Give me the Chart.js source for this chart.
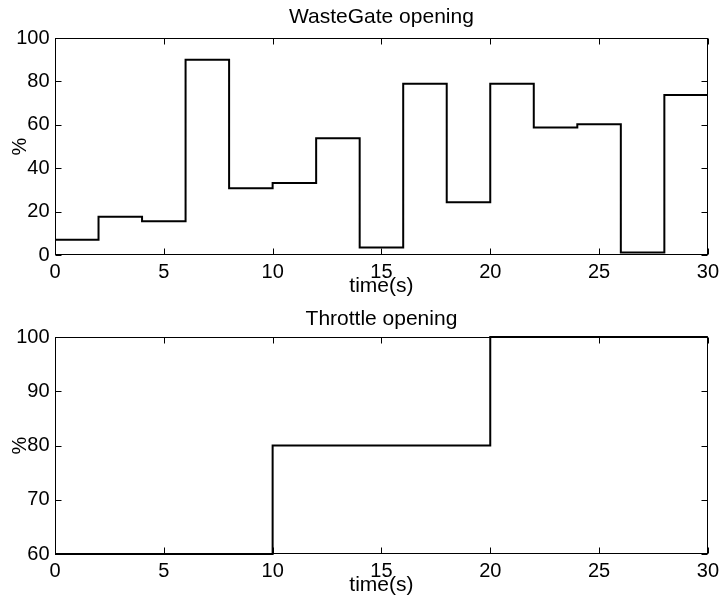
<!DOCTYPE html>
<html>
<head>
<meta charset="utf-8">
<script src="https://cdn.jsdelivr.net/npm/chart.js@4"></script>
<style>
  html, body { margin: 0; padding: 0; background: #fff; }
  canvas { display: block; }
</style>
</head>
<body>
<canvas id="wg" width="724" height="299"></canvas>
<canvas id="th" width="724" height="300"></canvas>
<script>
// WasteGate opening (%), held from each time to the next
const wgTime  = [0, 2, 4, 6, 8, 10, 12, 14, 16, 18, 20, 22, 24, 26, 28, 30];
const wgValue = [7, 17.6, 15.6, 90, 30.8, 33.2, 53.8, 3.5, 78.9, 24.3, 78.9, 58.7, 60.2, 1.1, 73.7, 73.7];

// Throttle opening (%)
const thTime  = [0, 10, 20, 30];
const thValue = [60, 80, 100, 100];

const xTickStep = 5;
const wgYTicks = { min: 0, max: 100, step: 20 };
const thYTicks = { min: 60, max: 100, step: 10 };

Chart.defaults.font.family = '"Liberation Sans", Arial, sans-serif';
Chart.defaults.font.size = 20;
Chart.defaults.color = '#000';

const TICK_LEN = 6;

// box round the axes with inward ticks on all four sides
const boxPlugin = {
  id: 'matlabBox',
  beforeDatasetsDraw(chart) {
    const { ctx, chartArea: a, scales: { x, y } } = chart;
    const l = Math.round(a.left) + 0.5, r = Math.round(a.right) - 0.5;
    const t = Math.round(a.top) + 0.5, b = Math.round(a.bottom) - 0.5;
    ctx.save();
    ctx.strokeStyle = '#000';
    ctx.lineWidth = 1;
    ctx.strokeRect(l, t, r - l, b - t);
    ctx.beginPath();
    x.ticks.forEach(tk => {
      const px = Math.round(x.getPixelForValue(tk.value)) + 0.5;
      ctx.moveTo(px, b); ctx.lineTo(px, b - TICK_LEN);
      ctx.moveTo(px, t); ctx.lineTo(px, t + TICK_LEN);
    });
    y.ticks.forEach(tk => {
      const py = Math.round(y.getPixelForValue(tk.value)) + 0.5;
      ctx.moveTo(l, py); ctx.lineTo(l + TICK_LEN, py);
      ctx.moveTo(r, py); ctx.lineTo(r - TICK_LEN, py);
    });
    ctx.stroke();
    ctx.restore();
  },
};

function drawStep(canvasId, title, times, values, yt, titlePad, xTitlePad, xHeight) {
  const ctx = document.getElementById(canvasId);
  return new Chart(ctx, {
    type: 'line',
    data: {
      datasets: [{
        data: times.map((t, i) => ({ x: t, y: values[i] })),
        stepped: 'before',
        borderColor: '#000',
        borderWidth: 2,
        pointRadius: 0,
        fill: false,
        clip: 4,
      }],
    },
    options: {
      responsive: false, animation: false,
      layout: { padding: { left: 0, right: 14, top: 0, bottom: 0 } },
      plugins: {
        legend: { display: false },
        tooltip: { enabled: false },
        title: {
          display: true, text: title, fullSize: false,
          font: { size: 21, weight: 'normal' }, color: '#000',
          padding: titlePad,
        },
      },
      scales: {
        x: {
          type: 'linear', min: 0, max: 30,
          grid: { display: false, drawTicks: false }, border: { display: false },
          ticks: { stepSize: xTickStep, padding: 5, maxRotation: 0, font: { size: 20 }, color: '#000' },
          title: { display: true, text: 'time(s)', font: { size: 21 }, color: '#000', padding: { top: 0, bottom: xTitlePad } },
          afterFit: s => { s.height = xHeight; },
        },
        y: {
          min: yt.min, max: yt.max,
          grid: { display: false, drawTicks: false }, border: { display: false },
          ticks: { stepSize: yt.step, padding: 5.5, font: { size: 20 }, color: '#000' },
          title: { display: true, text: '%', font: { size: 20 }, color: '#000', padding: { top: 8, bottom: 0 } },
          afterFit: s => { s.width = 55; },
        },
      },
    },
    plugins: [boxPlugin],
  });
}

drawStep('wg', 'WasteGate opening', wgTime, wgValue, wgYTicks, { top: 4.65, bottom: 8.15 }, 0.05, 44);
drawStep('th', 'Throttle opening', thTime, thValue, thYTicks, { top: 7.45, bottom: 5.35 }, 1.05, 45);
</script>
</body>
</html>
